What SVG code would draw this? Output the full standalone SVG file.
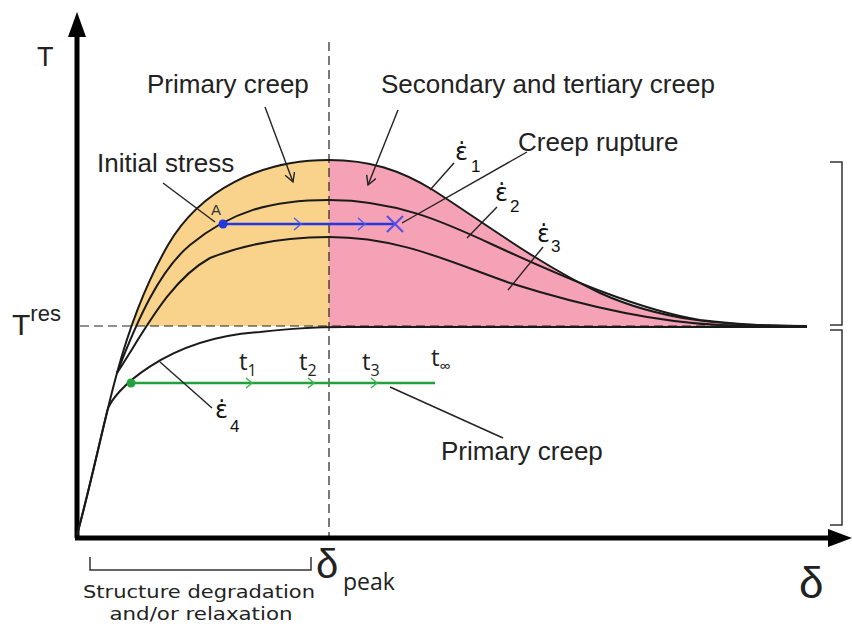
<svg xmlns="http://www.w3.org/2000/svg" width="852" height="628" viewBox="0 0 852 628">
<style>
.lbl{font-family:"Liberation Sans",Arial,sans-serif;font-size:26px;fill:#222}
.hum{font-family:"Open Sans","DejaVu Sans",sans-serif;fill:#222}
.brt{font-family:"DejaVu Sans",sans-serif;font-size:18px;fill:#222}
.eps{font-family:"DejaVu Sans",sans-serif;font-size:24px;fill:#111}
.sub{font-family:"Liberation Sans",Arial,sans-serif;font-size:17px;fill:#111}
.curve{fill:none;stroke:#1a1a1a;stroke-width:2}
.lead{fill:none;stroke:#222;stroke-width:1.4}
.dash{fill:none;stroke:#222;stroke-width:1.2;stroke-dasharray:9 5}
.brk{fill:none;stroke:#333;stroke-width:1.5}
</style>
<defs>
<clipPath id="cl"><rect x="0" y="0" width="329" height="326"/></clipPath>
<clipPath id="cr"><rect x="329" y="0" width="523" height="326"/></clipPath>
<path id="e1fill" d="M77,535 C92,480 104,420 117,373 C130,325 145,285 168,245 C200,190 260,160 329,160 C370,160 400,170 433,190 C480,220 540,265 600,293 C660,320 720,326 807,326 L807,535 Z"/>
<marker id="av" markerWidth="12" markerHeight="12" refX="10" refY="5" orient="auto" markerUnits="userSpaceOnUse"><path d="M1,0 L10,5 L1,10" fill="none" stroke="#222" stroke-width="1.4"/></marker>
</defs>

<g id="regions">
<use href="#e1fill" fill="#F9D38C" clip-path="url(#cl)"/>
<use href="#e1fill" fill="#F6A2B6" clip-path="url(#cr)"/>
</g>

<g id="guides">
<line class="dash" x1="329" y1="42" x2="329" y2="536"/>
<line class="dash" x1="80" y1="326" x2="805" y2="326"/>
</g>

<g id="axes">
<line x1="77" y1="538" x2="77" y2="32" stroke="#000" stroke-width="5"/>
<polygon points="77,12 68,37 86,37" fill="#000"/>
<line x1="75" y1="538" x2="832" y2="538" stroke="#000" stroke-width="5"/>
<polygon points="852,538 828,529 828,547" fill="#000"/>
<text class="lbl" x="37" y="66" style="font-size:27px">T</text>
<text class="lbl" x="12" y="335" style="font-size:30px">T<tspan dy="-14" style="font-size:22px">res</tspan></text>
<text class="lbl" x="799" y="598" style="font-size:44px">δ</text>
<text class="lbl" x="316" y="578" style="font-size:40px">δ</text>
<text class="hum" x="343" y="590" style="font-size:23px">peak</text>
</g>

<g id="curves">
<path class="curve" id="c1" d="M77,535 C92,480 104,420 117,373 C130,325 145,285 168,245 C200,190 260,160 329,160 C370,160 400,170 433,190 C480,220 540,265 600,293 C660,320 720,326 807,326"/>
<path class="curve" id="c2" d="M117,373 C138,318 160,270 190,245 C230,212 270,200 329,200 C400,200 450,225 500,248 C570,280 640,310 700,320 C750,326 780,326 807,326"/>
<path class="curve" id="c3" d="M117,373 C145,330 170,280 210,258 C250,242 290,237 329,237 C400,237 450,262 510,283 C580,305 650,322 720,325 C760,326 790,326 807,326"/>
<path class="curve" id="c4" d="M77,535 C88.25,493.75 97.8,449.7 107.4,410.4 C112,392 165,338 260,332 C290,329 310,327 345,327 L807,327"/>
</g>

<g id="blue-path">
<line x1="223" y1="224" x2="397" y2="224" stroke="#2437E0" stroke-width="2.5"/>
<circle cx="223" cy="224" r="4.5" fill="#2437E0"/>
<polyline points="294,218 301,224 294,230" fill="none" stroke="#4a5ef0" stroke-width="1.5"/>
<polyline points="358,218 365,224 358,230" fill="none" stroke="#4a5ef0" stroke-width="1.5"/>
<line x1="387" y1="216" x2="403" y2="232" stroke="#5b4de8" stroke-width="2.2"/>
<line x1="387" y1="232" x2="403" y2="216" stroke="#5b4de8" stroke-width="2.2"/>
<text class="lbl" x="211" y="215" style="font-size:15px;fill:#333">A</text>
</g>

<g id="green-path">
<line x1="131" y1="383" x2="435" y2="383" stroke="#22A03C" stroke-width="2.5"/>
<circle cx="131" cy="383" r="4.5" fill="#22A03C"/>
<polyline points="246,378 252,383 246,388" fill="none" stroke="#3cb44b" stroke-width="1.5"/>
<polyline points="308,378 314,383 308,388" fill="none" stroke="#3cb44b" stroke-width="1.5"/>
<polyline points="371,378 377,383 371,388" fill="none" stroke="#3cb44b" stroke-width="1.5"/>
<text class="hum" x="239" y="370" style="font-size:24px">t<tspan dy="6" style="font-size:16px">1</tspan></text>
<text class="hum" x="299" y="370" style="font-size:24px">t<tspan dy="6" style="font-size:16px">2</tspan></text>
<text class="hum" x="362" y="370" style="font-size:24px">t<tspan dy="6" style="font-size:16px">3</tspan></text>
<text class="hum" x="431" y="366" style="font-size:24px">t<tspan dy="6" style="font-size:16px">∞</tspan></text>
</g>

<g id="connectors">
<line class="lead" x1="265" y1="107" x2="293" y2="182" marker-end="url(#av)"/>
<line class="lead" x1="398" y1="110" x2="368" y2="185" marker-end="url(#av)"/>
<line class="lead" x1="163" y1="183" x2="215" y2="222"/>
<line class="lead" x1="527" y1="152" x2="402" y2="223"/>
<line class="lead" x1="454" y1="163" x2="430" y2="190"/>
<line class="lead" x1="497" y1="207" x2="467" y2="238"/>
<line class="lead" x1="543" y1="247" x2="508" y2="290"/>
<line class="lead" x1="160" y1="362" x2="212" y2="408"/>
<line class="lead" x1="390" y1="387" x2="503" y2="438"/>
</g>

<g id="labels">
<text class="lbl" x="147" y="93">Primary creep</text>
<text class="lbl" x="381" y="93">Secondary and tertiary creep</text>
<text class="lbl" x="518" y="151">Creep rupture</text>
<text class="lbl" x="97" y="172">Initial stress</text>
<text class="lbl" x="441" y="460">Primary creep</text>
<text class="eps" x="455" y="160">ε̇</text><text class="sub" x="471" y="172">1</text>
<text class="eps" x="495" y="201">ε̇</text><text class="sub" x="510" y="212">2</text>
<text class="eps" x="537" y="242">ε̇</text><text class="sub" x="551" y="252">3</text>
<text class="eps" x="215" y="418">ε̇</text><text class="sub" x="230" y="432">4</text>
</g>

<g id="brackets">
<path class="brk" d="M90,557 V570 H311 V557"/>
<path class="brk" d="M830,162 H842 V325 H830"/>
<path class="brk" d="M830,330 H842 V525 H830"/>
<text class="brt" x="199" y="598" text-anchor="middle" textLength="232" lengthAdjust="spacingAndGlyphs">Structure degradation</text>
<text class="brt" x="201" y="620" text-anchor="middle" textLength="183" lengthAdjust="spacingAndGlyphs">and/or relaxation</text>
</g>
</svg>
